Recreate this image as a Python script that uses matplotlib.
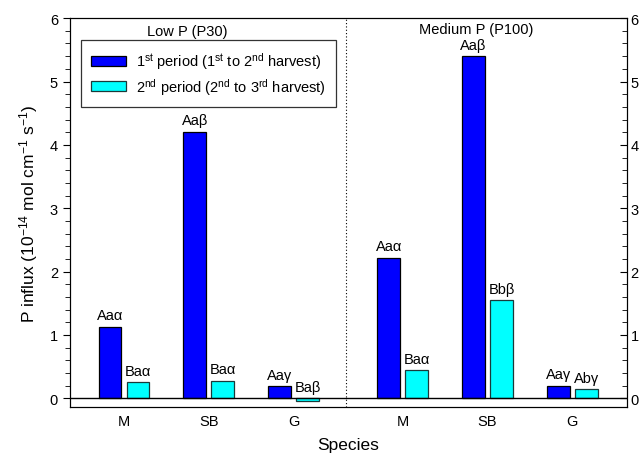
import matplotlib
matplotlib.use("Agg")
import matplotlib.pyplot as plt
from matplotlib.ticker import MultipleLocator
import numpy as np

plt.rcParams['font.family'] = ['Liberation Sans', 'DejaVu Sans']
plt.rcParams['mathtext.fontset'] = 'custom'
plt.rcParams['mathtext.rm'] = 'Liberation Sans'
plt.rcParams['mathtext.it'] = 'Liberation Sans'

species = ["M", "SB", "G", "M", "SB", "G"]
positions = [1, 2, 3, 4.29, 5.29, 6.29]
period1 = [1.13, 4.21, 0.19, 2.22, 5.40, 0.20]
period2 = [0.26, 0.28, -0.05, 0.44, 1.55, 0.14]
labels1 = ["Aaα", "Aaβ", "Aaγ", "Aaα", "Aaβ", "Aaγ"]
labels2 = ["Baα", "Baα", "Baβ", "Baα", "Bbβ", "Abγ"]
groups = ["Low P (P30)", "Medium P (P100)"]
yticks = [0, 1, 2, 3, 4, 5, 6]

fig = plt.figure(figsize=(6.4, 4.56), dpi=100)
ax = fig.add_axes([0.109, 0.105, 0.870, 0.853])

w = 0.27
off = 0.165
x = np.array(positions)
ax.bar(x - off, period1, w, color='#0000FF', edgecolor='black', linewidth=0.9,
       label=r'1$^{\rm st}$ period (1$^{\rm st}$ to 2$^{\rm nd}$ harvest)', zorder=3)
ax.bar(x + off, period2, w, color='#00FFFF', edgecolor='#1a3a3a', linewidth=0.9,
       label=r'2$^{\rm nd}$ period (2$^{\rm nd}$ to 3$^{\rm rd}$ harvest)', zorder=3)

for xi, v, t in zip(x - off, period1, labels1):
    ax.annotate(t, (xi, max(v, 0)), xytext=(0, 3), textcoords='offset points',
                ha='center', va='bottom', fontsize=10.5)
for xi, v, t in zip(x + off, period2, labels2):
    ax.annotate(t, (xi, max(v, 0)), xytext=(0, 3), textcoords='offset points',
                ha='center', va='bottom', fontsize=10.5)

ax.axhline(0, color='black', linewidth=1.0, zorder=4)
ax.axvline(3.62, color='black', linestyle=(0, (1, 2)), linewidth=0.8)

ax.set_xlim(0.36, 6.93)
ax.set_ylim(-0.14, 6)
ax.set_xticks(positions)
ax.set_xticklabels(species, fontsize=10.5)
ax.tick_params(axis='x', length=0, pad=5)

ax.set_yticks(yticks)
ax.yaxis.set_minor_locator(MultipleLocator(0.2))
ax.tick_params(axis='y', which='major', direction='out', length=5, labelsize=10.5,
               left=True, right=False)
ax.tick_params(axis='y', which='minor', direction='out', length=3.5, left=True, right=False)

ax2 = ax.twinx()
ax2.set_ylim(ax.get_ylim())
ax2.set_yticks(yticks)
ax2.set_yticklabels([str(t) for t in yticks])
ax2.yaxis.set_minor_locator(MultipleLocator(0.2))
ax2.tick_params(axis='y', which='major', direction='in', length=5, labelsize=10.5, pad=3)
ax2.tick_params(axis='y', which='minor', direction='in', length=3.5)

ax.set_xlabel("Species", fontsize=12.5, labelpad=6.5)
ax.set_ylabel(r"P influx (10$^{-14}$ mol cm$^{-1}$ s$^{-1}$)", fontsize=12.5, labelpad=7)

ax.text(1.75, 5.79, groups[0], ha='center', va='center', fontsize=10.5)
ax.text(5.15, 5.83, groups[1], ha='center', va='center', fontsize=10.5)

leg = ax.legend(loc='upper left', bbox_to_anchor=(0.02, 0.943), fontsize=10.5,
                frameon=True, fancybox=False, edgecolor='black', handlelength=2.4,
                handleheight=0.7, borderpad=0.7, labelspacing=0.3, handletextpad=0.7,
                borderaxespad=0)
leg.get_frame().set_linewidth(0.9)

fig.savefig("out.png", dpi=100)
